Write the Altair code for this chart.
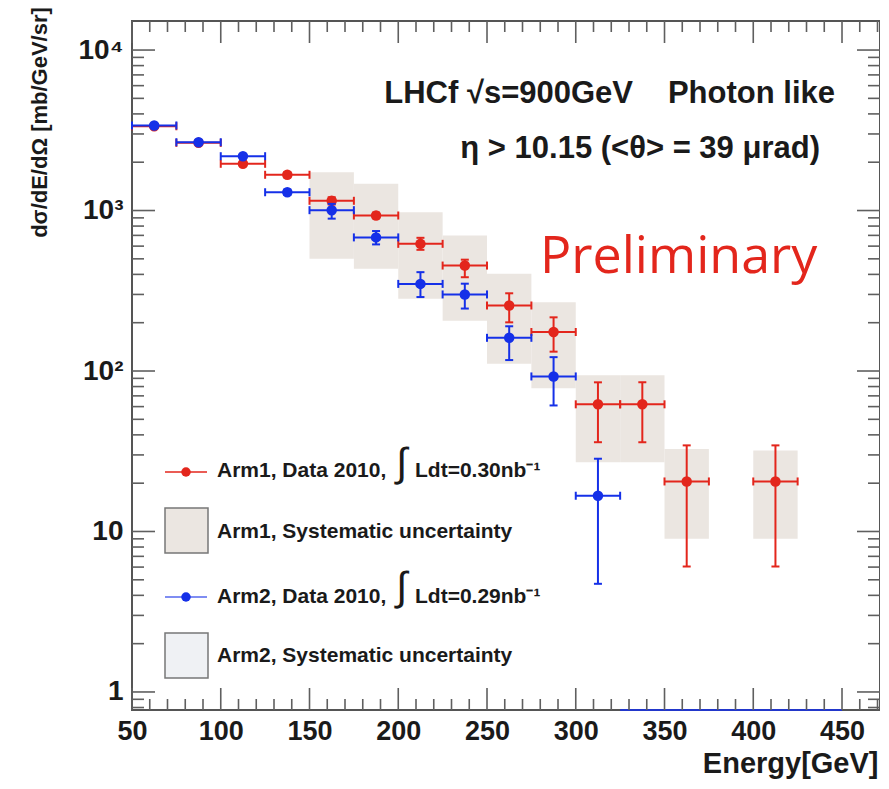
import altair as alt
import pandas as pd

# ---------------- data ----------------
BIN_HALF = 12.5  # 25 GeV bins

arm1_energy = [62.5, 87.5, 112.5, 137.5, 162.5, 187.5, 212.5, 237.5, 262.5, 287.5, 312.5, 337.5, 362.5, 412.5]
arm1_value = [3350, 2640, 1955, 1670, 1150, 931, 620, 454, 256, 175, 62, 62, 20.5, 20.5]
arm1_err_lo = [3270, 2580, 1900, 1610, 1090, 895, 569, 384, 201, 132, 36, 36, 6.05, 6.05]
arm1_err_hi = [3430, 2700, 2010, 1730, 1210, 970, 676, 494, 305, 216, 85, 85, 34.4, 34.4]

sys1_energy = [162.5, 187.5, 212.5, 237.5, 262.5, 287.5, 312.5, 337.5, 362.5, 412.5]
sys1_lo = [500, 434, 282, 206, 111, 78, 27, 27, 9.0, 9.0]
sys1_hi = [1733, 1466, 976, 698, 404, 268, 94, 94, 32.7, 32.0]

arm2_energy = [62.5, 87.5, 112.5, 137.5, 162.5, 187.5, 212.5, 237.5, 262.5, 287.5, 312.5]
arm2_value = [3390, 2665, 2180, 1300, 1005, 680, 349, 300, 161, 92.5, 16.7]
arm2_err_lo = [3320, 2600, 2120, 1250, 890, 615, 289, 245, 117, 61, 4.72]
arm2_err_hi = [3460, 2730, 2240, 1350, 1100, 745, 413, 350, 190, 122, 28.4]
arm2_zero_energy = [337.5, 362.5, 387.5, 412.5, 437.5]

X_DOMAIN = [50, 471.4]
Y_DOMAIN = [0.772, 15170]

x_major = [50, 100, 150, 200, 250, 300, 350, 400, 450]
x_minor = [60, 70, 80, 90, 110, 120, 130, 140, 160, 170, 180, 190, 210, 220, 230, 240,
           260, 270, 280, 290, 310, 320, 330, 340, 360, 370, 380, 390, 410, 420, 430, 440, 460, 470]
y_major = [1, 10, 100, 1000, 10000]
y_minor = [0.8, 0.9, 2, 3, 4, 5, 6, 7, 8, 9, 20, 30, 40, 50, 60, 70, 80, 90,
           200, 300, 400, 500, 600, 700, 800, 900, 2000, 3000, 4000, 5000, 6000, 7000, 8000, 9000]

title_line1a = "LHCf √s=900GeV"
title_line1b = "Photon like"
title_line2 = "η > 10.15 (<θ> = 39 μrad)"
prelim_text = "Preliminary"
leg1_a = "Arm1, Data 2010,"
leg1_b = "Ldt=0.30nb⁻¹"
leg2 = "Arm1, Systematic uncertainty"
leg3_a = "Arm2, Data 2010,"
leg3_b = "Ldt=0.29nb⁻¹"
leg4 = "Arm2, Systematic uncertainty"
integral = "∫"

# ---------------- styling ----------------
W, H = 748, 689
FONT = "Liberation Sans"
RED = "#e3261c"
BLUE = "#1530e8"
BEIGE = "#ebe6e1"
TICK = "#5f5f5f"
TXT = "#1a1a1a"

xs = alt.Scale(domain=X_DOMAIN, nice=False, zero=False)
ys = alt.Scale(type="log", domain=Y_DOMAIN, nice=False)

x_axis = alt.Axis(values=x_major, ticks=False, domain=False, grid=False,
                  labelFont=FONT, labelFontSize=27, labelFontWeight="bold", labelColor=TXT,
                  labelPadding=8, labelFlush=False, labelOverlap=False,
                  title="Energy[GeV]", titleFont=FONT, titleFontSize=29, titleFontWeight="bold",
                  titleColor=TXT, titleAnchor="end", titleAlign="right", titleBaseline="alphabetic",
                  titleX=746, titleY=62)
y_axis = alt.Axis(values=y_major, ticks=False, domain=False, grid=False,
                  labelFont=FONT, labelFontSize=28, labelFontWeight="bold", labelColor=TXT,
                  labelPadding=9, labelFlush=False, labelOverlap=False,
                  labelExpr="datum.value >= 10000 ? '10⁴' : datum.value >= 1000 ? '10³' : datum.value >= 100 ? '10²' : datum.value >= 10 ? '10' : '1'",
                  title="dσ/dE/dΩ [mb/GeV/sr]", titleFont=FONT, titleFontSize=22, titleFontWeight="bold",
                  titleColor=TXT, titleAngle=270, titleAlign="center", titleBaseline="middle",
                  titleX=-93, titleY=101)


def X(f):
    return alt.X(f, scale=xs, axis=x_axis)


def Y(f):
    return alt.Y(f, scale=ys, axis=y_axis)


layers = []

# systematic boxes (Arm1)
dsys = pd.DataFrame({"E": sys1_energy, "lo": sys1_lo, "hi": sys1_hi})
dsys["x0"] = dsys.E - BIN_HALF
dsys["x1"] = dsys.E + BIN_HALF
layers.append(alt.Chart(dsys).mark_rect(color=BEIGE, opacity=1).encode(
    x=X("x0:Q"), x2="x1:Q", y=Y("lo:Q"), y2="hi:Q"))


def series(E, v, lo, hi, color):
    df = pd.DataFrame({"E": E, "v": v, "lo": lo, "hi": hi})
    df["x0"] = df.E - BIN_HALF
    df["x1"] = df.E + BIN_HALF
    base = alt.Chart(df)
    out = []
    out.append(base.mark_rule(color=color, strokeWidth=2).encode(x=X("x0:Q"), x2="x1:Q", y=Y("v:Q")))
    out.append(base.transform_fold(["x0", "x1"], as_=["k", "xe"]).mark_tick(
        orient="vertical", size=8, thickness=2, color=color, opacity=1).encode(x=X("xe:Q"), y=Y("v:Q")))
    out.append(base.mark_rule(color=color, strokeWidth=2).encode(x=X("E:Q"), y=Y("lo:Q"), y2="hi:Q"))
    out.append(base.transform_fold(["lo", "hi"], as_=["k", "ye"]).mark_tick(
        orient="horizontal", size=8, thickness=2, color=color, opacity=1).encode(x=X("E:Q"), y=Y("ye:Q")))
    out.append(base.mark_circle(size=110, color=color, opacity=1).encode(x=X("E:Q"), y=Y("v:Q")))
    return out


layers += series(arm1_energy, arm1_value, arm1_err_lo, arm1_err_hi, RED)
layers += series(arm2_energy, arm2_value, arm2_err_lo, arm2_err_hi, BLUE)

# Arm2 empty bins drawn on the axis floor
dz = pd.DataFrame({"E": arm2_zero_energy})
dz["x0"] = dz.E - BIN_HALF
dz["x1"] = dz.E + BIN_HALF
dz["v"] = Y_DOMAIN[0]
layers.append(alt.Chart(dz).mark_rule(color=BLUE, strokeWidth=2, opacity=0.8).encode(
    x=X("x0:Q"), x2="x1:Q", y=Y("v:Q")))


# ticks inside the frame on all four sides
def xticks(vals, length, top):
    y0 = 0 if top else H
    y1 = length if top else H - length
    return alt.Chart(pd.DataFrame({"t": vals})).mark_rule(color=TICK, strokeWidth=1.6).encode(
        x=X("t:Q"), y=alt.value(y0), y2=alt.value(y1))


def yticks(vals, length, right):
    x0 = W if right else 0
    x1 = W - length if right else length
    return alt.Chart(pd.DataFrame({"t": vals})).mark_rule(color=TICK, strokeWidth=1.6).encode(
        y=Y("t:Q"), x=alt.value(x0), x2=alt.value(x1))


layers += [xticks(x_major, 22, False), xticks(x_minor, 11, False),
           xticks(x_major, 22, True), xticks(x_minor, 11, True),
           yticks(y_major, 23, False), yticks(y_minor, 12, False),
           yticks(y_major, 23, True), yticks(y_minor, 12, True)]


def label(text, x, y, size, align="left", color=TXT, weight="bold", font=FONT, baseline="alphabetic"):
    return alt.Chart(pd.DataFrame({"t": [text]})).mark_text(
        align=align, baseline=baseline, fontSize=size, fontWeight=weight, font=font, color=color).encode(
        text="t:N", x=alt.value(x), y=alt.value(y))


layers += [
    label(title_line1a, 501, 82, 31, align="right"),
    label(title_line1b, 703, 82, 31, align="right"),
    label(title_line2, 688, 137, 31, align="right"),
    label(prelim_text, 408, 252, 52, color=RED, weight="normal", font="Open Sans"),
]


# legend (ROOT style, drawn by hand)
def seg(x0, x1, y, color, op):
    return alt.Chart(pd.DataFrame({"t": [0]})).mark_rule(color=color, strokeWidth=2, opacity=op).encode(
        x=alt.value(x0), x2=alt.value(x1), y=alt.value(y))


def dot(x, y, color):
    return alt.Chart(pd.DataFrame({"t": [0]})).mark_circle(size=90, color=color, opacity=1).encode(
        x=alt.value(x), y=alt.value(y))


def box(x0, x1, y0, y1, fill):
    return alt.Chart(pd.DataFrame({"t": [0]})).mark_rect(fill=fill, stroke="#777777", strokeWidth=1.5).encode(
        x=alt.value(x0), x2=alt.value(x1), y=alt.value(y0), y2=alt.value(y1))


layers += [
    seg(33, 75, 451, RED, 0.75), dot(54, 451, RED),
    label(leg1_a, 85, 456, 21), label(integral, 264, 443, 40, weight="normal", baseline="middle"),
    label(leg1_b, 283, 456, 21),
    box(33, 76, 487, 532, "#ebe6e1"), label(leg2, 85, 517, 21),
    seg(33, 75, 576, BLUE, 0.55), dot(54, 576, BLUE),
    label(leg3_a, 85, 582, 21), label(integral, 264, 567, 40, weight="normal", baseline="middle"),
    label(leg3_b, 283, 582, 21),
    box(33, 76, 612, 657, "#eff1f4"), label(leg4, 85, 641, 21),
]

chart = alt.layer(*layers).properties(
    width=W, height=H,
    padding={"left": 124, "top": 13, "right": 0, "bottom": 71},
    autosize=alt.AutoSizeParams(type="none"),
    background="white",
).configure_view(stroke="#555555", strokeWidth=2)

chart.save("out.html", embed_options={"renderer": "svg", "actions": False})
